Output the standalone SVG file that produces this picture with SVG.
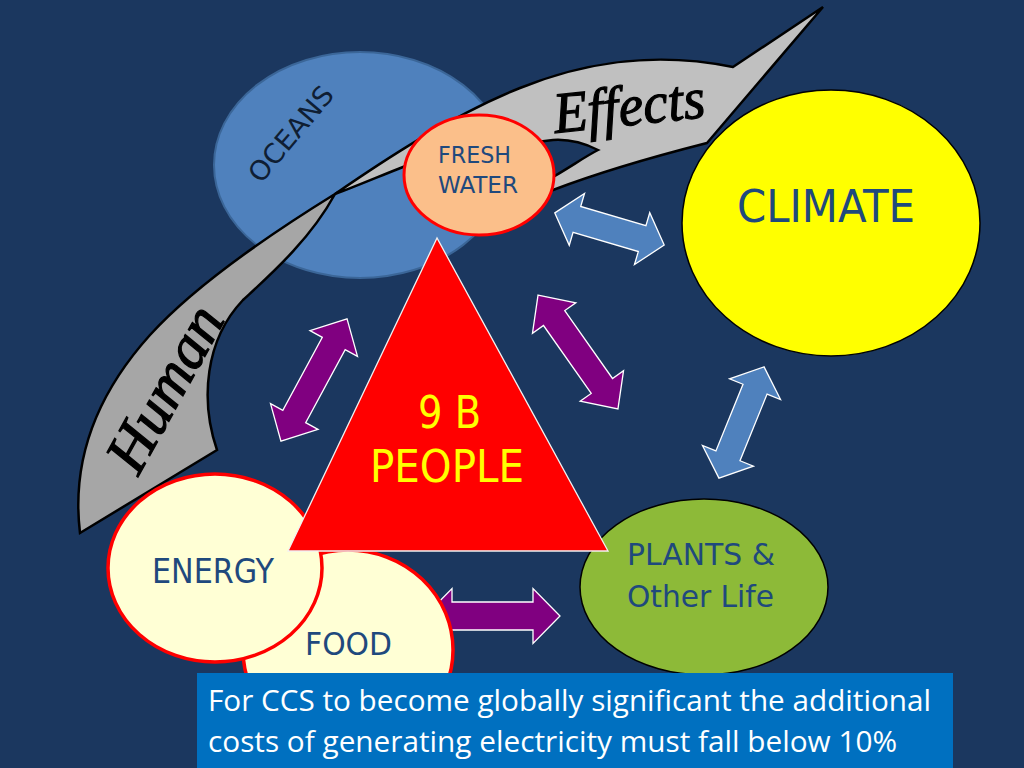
<svg xmlns="http://www.w3.org/2000/svg" width="1024" height="768" viewBox="0 0 1024 768">
<style>
.lbl{font-family:'DejaVu Sans Condensed','DejaVu Sans',sans-serif;font-stretch:condensed;fill:#1F497D}
.ppl{font-family:'DejaVu Sans Condensed','DejaVu Sans',sans-serif;font-stretch:condensed;fill:#FFFF00}
.serif{font-family:'Liberation Serif','Times New Roman',serif;font-style:italic;fill:#000;stroke:#000;stroke-width:1.2}
.swoosh{stroke:#000;stroke-width:2.5;stroke-linejoin:miter}
.arB{fill:#4F81BD;stroke:#FFFFFF;stroke-width:1.3}
.arP{fill:#800080;stroke:#FFFFFF;stroke-width:1.3}
.note{font-family:'Open Sans','Noto Sans',sans-serif;fill:#FFFFFF;font-size:29px}
</style>
<rect x="0" y="0" width="1024" height="768" fill="#1B375F"/>

<g id="oceans">
<ellipse cx="360" cy="165" rx="146" ry="113" fill="#4F81BD" stroke="#3B6698" stroke-width="2"/>
<text class="lbl" x="0" y="0" font-size="27" text-anchor="middle" style="fill:#0F1E33" transform="translate(298,140) rotate(-50)" textLength="116" lengthAdjust="spacingAndGlyphs">OCEANS</text>
</g>

<g id="swoosh">
<path class="swoosh" fill="#A6A6A6" d="M335,194 C280,228 200,280 150,335 C105,385 70,450 80,533 L217,450 C200,400 205,340 243,300 C270,275 310,240 335,194 Z"/>
<path class="swoosh" fill="#C0C0C0" d="M335,194 C380,163 450,116 520,88 C580,64 650,50 733,67 L823,7 L707,143 C660,155 600,172 553,190 L490,212 L480,195 L553,177 C572,166 586,156 598,150 C584,143 568,139 553,140 L470,150 C440,155 420,160 403,167 C380,176 357,186 335,194 Z"/>
<text class="serif" x="0" y="0" font-size="58" text-anchor="middle" transform="translate(631,125) rotate(-6)" textLength="152" lengthAdjust="spacingAndGlyphs">Effects</text>
<text class="serif" x="0" y="0" font-size="60" text-anchor="middle" transform="translate(182,398) rotate(-61)" textLength="180" lengthAdjust="spacingAndGlyphs">Human</text>
</g>

<g id="fresh-water">
<ellipse cx="479" cy="175" rx="75" ry="60" fill="#FBBF8A" stroke="#FF0000" stroke-width="3"/>
<text class="lbl" x="438" y="163" font-size="23" textLength="73" lengthAdjust="spacingAndGlyphs">FRESH</text>
<text class="lbl" x="438" y="193" font-size="23" textLength="80" lengthAdjust="spacingAndGlyphs">WATER</text>
</g>

<g id="climate">
<ellipse cx="831" cy="223" rx="149" ry="133" fill="#FFFF00" stroke="#000" stroke-width="1.5"/>
<text class="lbl" x="737" y="222" font-size="44" textLength="178" lengthAdjust="spacingAndGlyphs">CLIMATE</text>
</g>

<g id="connectors">
<path class="arB" transform="translate(609.5,229) rotate(16.4)" d="M-57,0 L-34,-27 L-34,-13.5 L34,-13.5 L34,-27 L57,0 L34,27 L34,13.5 L-34,13.5 L-34,27 Z"/>
<path class="arP" transform="translate(314,380) rotate(118.4)" d="M-69.5,0 L-41.5,-27 L-41.5,-13 L41.5,-13 L41.5,-27 L69.5,0 L41.5,27 L41.5,13 L-41.5,13 L-41.5,27 Z"/>
<path class="arP" transform="translate(578,352) rotate(54.9)" d="M-69.5,0 L-41.5,-26.5 L-41.5,-13 L41.5,-13 L41.5,-26.5 L69.5,0 L41.5,26.5 L41.5,13 L-41.5,13 L-41.5,26.5 Z"/>
<path class="arB" transform="translate(741.5,422.5) rotate(112.1)" d="M-60,0 L-36,-27.5 L-36,-13 L36,-13 L36,-27.5 L60,0 L36,27.5 L36,13 L-36,13 L-36,27.5 Z"/>
<path class="arP" transform="translate(492.5,616)" d="M-67.5,0 L-40.5,-27.5 L-40.5,-14 L40.5,-14 L40.5,-27.5 L67.5,0 L40.5,27.5 L40.5,14 L-40.5,14 L-40.5,27.5 Z"/>
</g>

<g id="plants">
<ellipse cx="704" cy="587" rx="124" ry="88" fill="#8DBA38" stroke="#000" stroke-width="1.5"/>
<text class="lbl" x="627" y="565" font-size="30" textLength="148" lengthAdjust="spacingAndGlyphs">PLANTS &amp;</text>
<text class="lbl" x="627" y="607" font-size="30" textLength="147" lengthAdjust="spacingAndGlyphs">Other Life</text>
</g>

<g id="food">
<ellipse cx="348" cy="650" rx="105" ry="100" fill="#FFFFD5" stroke="#FF0000" stroke-width="3.5"/>
<text class="lbl" x="305" y="655" font-size="32" textLength="87" lengthAdjust="spacingAndGlyphs">FOOD</text>
</g>

<g id="energy">
<ellipse cx="215" cy="568" rx="107" ry="94" fill="#FFFFD5" stroke="#FF0000" stroke-width="3.5"/>
<text class="lbl" x="152" y="583" font-size="34" textLength="122" lengthAdjust="spacingAndGlyphs">ENERGY</text>
</g>

<g id="people">
<polygon points="437,238 288,551 608,551" fill="#FF0000" stroke="#F2F2F2" stroke-width="1.3"/>
<text class="ppl" x="418" y="428" font-size="45" textLength="63" lengthAdjust="spacingAndGlyphs">9 B</text>
<text class="ppl" x="370" y="482" font-size="45" textLength="154" lengthAdjust="spacingAndGlyphs">PEOPLE</text>
</g>

<g id="note">
<rect x="197" y="673" width="756" height="95" fill="#0070C0"/>
<text class="note" x="208" y="711" textLength="723" lengthAdjust="spacingAndGlyphs">For CCS to become globally significant the additional</text>
<text class="note" x="208" y="752" textLength="689" lengthAdjust="spacingAndGlyphs">costs of generating electricity must fall below 10%</text>
</g>
</svg>
